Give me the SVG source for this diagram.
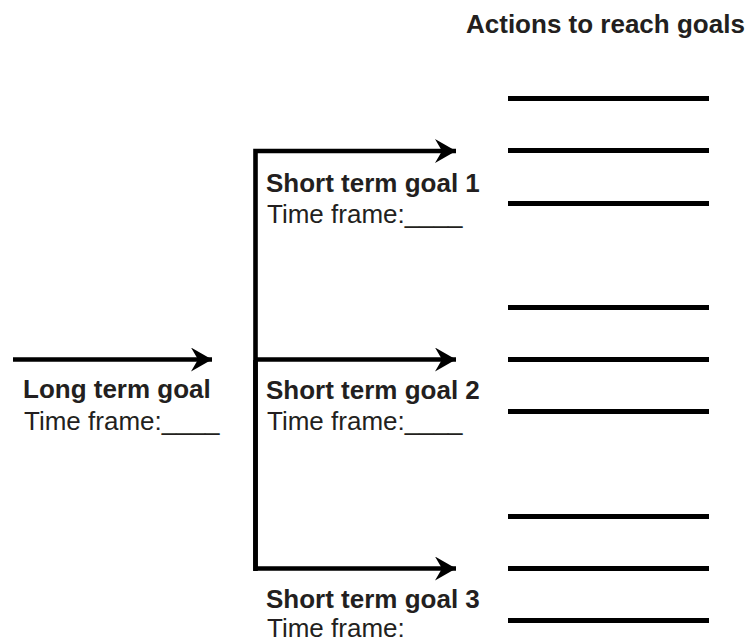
<svg xmlns="http://www.w3.org/2000/svg" width="749" height="644" viewBox="0 0 749 644">
<style>
text{font-family:"Liberation Sans",Arial,Helvetica,sans-serif;font-size:26px;fill:#231f20}
.b{font-weight:bold}
.ln{stroke:#000;stroke-width:4.6;fill:none}
.act{stroke:#000;stroke-width:5}
</style>
<defs>
<marker id="ah" markerUnits="userSpaceOnUse" markerWidth="24" markerHeight="26" refX="21" refY="12" orient="auto">
<path d="M0,0 L21,12 L0,24 L7,12 Z" fill="#000"/>
</marker>
</defs>
<rect width="749" height="644" fill="#fff"/>
<g id="title"><text class="b" x="466" y="33">Actions to reach goals</text></g>
<g id="connectors">
<line class="ln" x1="13" y1="359.5" x2="212" y2="359.5" marker-end="url(#ah)"/>
<path class="ln" d="M255.5,571 V151 H456" marker-end="url(#ah)"/>
<line class="ln" x1="255.5" y1="359.5" x2="456" y2="359.5" marker-end="url(#ah)"/>
<path class="ln" d="M255.5,360 V568.5 H456" marker-end="url(#ah)"/>
</g>
<g id="long-term-goal">
<text class="b" x="23" y="398">Long term goal</text>
<text x="24" y="430">Time frame:____</text>
</g>
<g id="short-term-goal-1">
<text class="b" x="266" y="192">Short term goal 1</text>
<text x="267" y="223">Time frame:____</text>
</g>
<g id="short-term-goal-2">
<text class="b" x="266" y="399">Short term goal 2</text>
<text x="267" y="430">Time frame:____</text>
</g>
<g id="short-term-goal-3">
<text class="b" x="266" y="608">Short term goal 3</text>
<text x="267" y="637">Time frame:</text>
</g>
<g id="actions-1">
<line class="act" x1="508" y1="98.5" x2="709" y2="98.5"/>
<line class="act" x1="508" y1="150.5" x2="709" y2="150.5"/>
<line class="act" x1="508" y1="203.5" x2="709" y2="203.5"/>
</g>
<g id="actions-2">
<line class="act" x1="508" y1="307.5" x2="709" y2="307.5"/>
<line class="act" x1="508" y1="359.5" x2="709" y2="359.5"/>
<line class="act" x1="508" y1="411.5" x2="709" y2="411.5"/>
</g>
<g id="actions-3">
<line class="act" x1="508" y1="516.5" x2="709" y2="516.5"/>
<line class="act" x1="508" y1="568.5" x2="709" y2="568.5"/>
<line class="act" x1="508" y1="620.5" x2="709" y2="620.5"/>
</g>
</svg>
